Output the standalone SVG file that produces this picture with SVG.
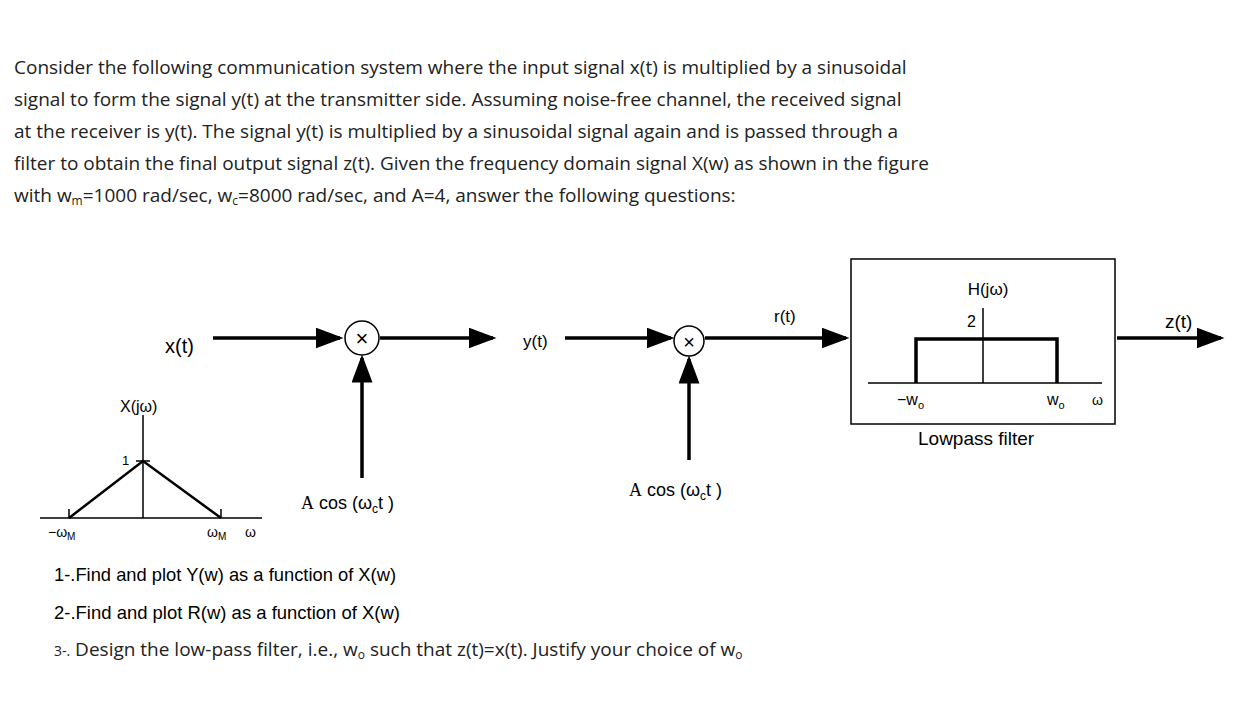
<svg xmlns="http://www.w3.org/2000/svg" width="1258" height="706" viewBox="0 0 1258 706">
<style>
.p{font-family:"Open Sans","Noto Sans",sans-serif;font-size:19px;fill:#222}
.d{font-family:"Liberation Sans",Arial,sans-serif;fill:#000}
.th{stroke:#000;stroke-width:3.5;fill:none}
.tn{stroke:#000;stroke-width:1.5;fill:none}
</style>
<defs><marker id="a" markerWidth="8" markerHeight="6" refX="7" refY="3" orient="auto" markerUnits="strokeWidth"><path d="M0,0L8,3L0,6z" fill="#000"/></marker></defs>
<rect width="1258" height="706" fill="#fff"/>
<g id="text">
<text class="p" x="14" y="74">Consider the following communication system where the input signal x(t) is multiplied by a sinusoidal</text>
<text class="p" x="14" y="106">signal to form the signal y(t) at the transmitter side. Assuming noise-free channel, the received signal</text>
<text class="p" x="14" y="138">at the receiver is y(t). The signal y(t) is multiplied by a sinusoidal signal again and is passed through a</text>
<text class="p" x="14" y="170">filter to obtain the final output signal z(t). Given the frequency domain signal X(w) as shown in the figure</text>
<text class="p" x="14" y="202">with w<tspan font-size="12" dy="3">m</tspan><tspan dy="-3">=1000 rad/sec, w</tspan><tspan font-size="12" dy="3">c</tspan><tspan dy="-3">=8000 rad/sec, and A=4, answer the following questions:</tspan></text>
<text class="d" x="54" y="581" font-size="19" textLength="342" lengthAdjust="spacingAndGlyphs">1-.Find and plot Y(w) as a function of X(w)</text>
<text class="d" x="54" y="619" font-size="19" textLength="346" lengthAdjust="spacingAndGlyphs">2-.Find and plot R(w) as a function of X(w)</text>
<text class="p" x="54" y="656"><tspan font-size="14">3-.</tspan> Design the low-pass filter, i.e., w<tspan font-size="12" dy="3">o</tspan><tspan dy="-3"> such that z(t)=x(t). Justify your choice of w</tspan><tspan font-size="12" dy="3">o</tspan></text>
</g>
<g id="xplot">
<path class="tn" d="M40,518H262M143,415V518M136,461H150M69,509V518M221,509V518"/>
<path d="M69,518L143,461L221,518" stroke="#000" stroke-width="2.5" fill="none"/>
<text class="d" x="120" y="412" font-size="16">X(jω)</text>
<text class="d" x="122" y="465" font-size="13">1</text>
<text class="d" x="48" y="537" font-size="14">−ω<tspan font-size="10" dy="3">M</tspan></text>
<text class="d" x="207" y="537" font-size="14">ω<tspan font-size="10" dy="3">M</tspan></text>
<text class="d" x="245" y="537" font-size="14">ω</text>
</g>
<g id="mult1"><circle cx="362" cy="338" r="17" class="tn" stroke-width="2"/><text class="d" x="362" y="346" font-size="22" text-anchor="middle">×</text></g>
<g id="mult2"><circle cx="689" cy="341" r="15" class="tn" stroke-width="2"/><text class="d" x="689" y="349" font-size="20" text-anchor="middle">×</text></g>
<g id="filter">
<rect x="851" y="259" width="264" height="165" class="tn"/>
<path class="tn" d="M868,383H1102M983,308V383"/>
<path class="th" d="M916,383V339H1057V383"/>
<text class="d" x="988" y="295" font-size="17" text-anchor="middle">H(jω)</text>
<text class="d" x="967" y="327" font-size="16">2</text>
<text class="d" x="897" y="405" font-size="16">−w<tspan font-size="11" dy="4">o</tspan></text>
<text class="d" x="1047" y="405" font-size="16">w<tspan font-size="11" dy="4">o</tspan></text>
<text class="d" x="1092" y="405" font-size="14">ω</text>
<text class="d" x="918" y="445" font-size="19">Lowpass filter</text>
</g>
<g id="connectors">
<path class="th" d="M213,338H340" marker-end="url(#a)"/>
<path class="th" d="M380,338H493" marker-end="url(#a)"/>
<path class="th" d="M565,338H671" marker-end="url(#a)"/>
<path class="th" d="M705,338H846" marker-end="url(#a)"/>
<path class="th" d="M1117,338H1221" marker-end="url(#a)"/>
<path class="th" d="M362,478V358" marker-end="url(#a)"/>
<path class="th" d="M689,460V359" marker-end="url(#a)"/>
</g>
<g id="labels">
<text class="d" x="165" y="353" font-size="20">x(t)</text>
<text class="d" x="523" y="347" font-size="17">y(t)</text>
<text class="d" x="774" y="322" font-size="17">r(t)</text>
<text class="d" x="1165" y="328" font-size="19">z(t)</text>
<text class="d" x="301" y="509" font-size="18"><tspan font-family="Liberation Serif">A</tspan> cos (ω<tspan font-size="12" dy="4">c</tspan><tspan dy="-4">t )</tspan></text>
<text class="d" x="629" y="496" font-size="18"><tspan font-family="Liberation Serif">A</tspan> cos (ω<tspan font-size="12" dy="4">c</tspan><tspan dy="-4">t )</tspan></text>
</g>
</svg>
